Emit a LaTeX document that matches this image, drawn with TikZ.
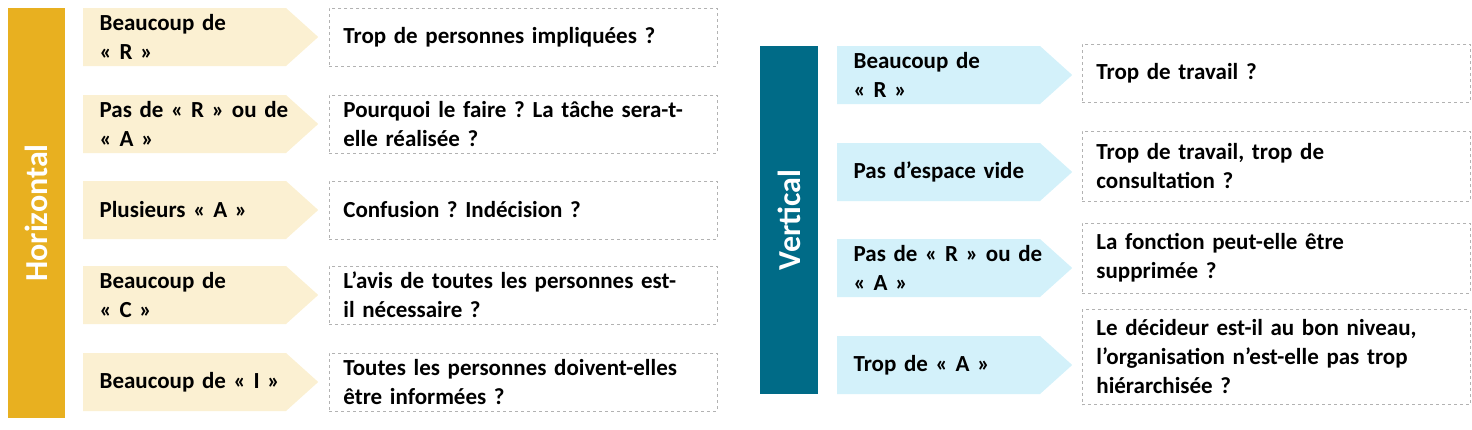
\documentclass[tikz,border=0pt]{standalone}
\usepackage{fontspec}
\setmainfont{Carlito}
\frenchspacing
\usetikzlibrary{shapes.symbols,positioning}
\definecolor{gold}{HTML}{E8B020}
\definecolor{cream}{HTML}{FBF0D2}
\definecolor{teal}{HTML}{006B87}
\definecolor{sky}{HTML}{D3F1FA}
\tikzset{
	chev/.style={
		signal, signal to=east, signal pointer angle=84, draw=none,
		minimum width=235pt, minimum height=58pt, inner xsep=0pt, inner ysep=0pt,
		text width=202pt, align=left, anchor=west,
		execute at begin node={\leftskip=16pt},
		font=\fontsize{23}{29}\selectfont\bfseries
	},
	%
	qbox/.style={
		rectangle, draw=black!30, dashed, thick, inner xsep=14pt, inner ysep=0pt,
		minimum width=388pt, text width=360pt, align=left, anchor=west,
		font=\fontsize{23}{29}\selectfont\bfseries
	},
	%
	bar/.style={
		rectangle, text=white, font=\fontsize{32}{36}\selectfont\bfseries,
		rotate=90
	}
}
\begin{document}
\begin{tikzpicture}[x=1pt,y=-1pt]
    \useasboundingbox (0,0) rectangle (1472,429);
    % horizontal
    \node(H)[bar, fill=gold, minimum width=410pt, minimum height=57pt] at (36.5,213){Horizontal};
    \node(h1)[chev, fill=cream] at (83,37){Beaucoup de\\« R »};
    \node(h2)[chev, fill=cream] at (83,124){\mbox{Pas de « R » ou de}\\« A »};
    \node(h3)[chev, fill=cream] at (83,210){Plusieurs « A »};
    \node(h4)[chev, fill=cream] at (83,295){Beaucoup de\\« C »};
    \node(h5)[chev, fill=cream] at (83,382){Beaucoup de « I »};
    \node(q1)[qbox, minimum height=58pt] at (329,37){Trop de personnes impliquées ?};
    \node(q2)[qbox, minimum height=58pt] at (329,124){Pourquoi le faire ? La tâche sera-t-\\elle réalisée ?};
    \node(q3)[qbox, minimum height=58pt] at (329,210){Confusion ? Indécision ?};
    \node(q4)[qbox, minimum height=58pt] at (329,295){L’avis de toutes les personnes est-\\il nécessaire ?};
    \node(q5)[qbox, minimum height=58pt] at (329,382){Toutes les personnes doivent-elles\\être informées ?};
    % vertical
    \node(V)[bar, fill=teal, minimum width=348pt, minimum height=58pt] at (789,220){Vertical};
    \node(v1)[chev, fill=sky] at (837,75){Beaucoup de\\« R »};
    \node(v2)[chev, fill=sky] at (837,172){Pas d’espace vide};
    \node(v3)[chev, fill=sky] at (837,268){\mbox{Pas de « R » ou de}\\« A »};
    \node(v4)[chev, fill=sky] at (837,365){Trop de « A »};
    \node(r1)[qbox, minimum height=58pt] at (1082,73){Trop de travail ?};
    \node(r2)[qbox, minimum height=70pt] at (1082,166){Trop de travail, trop de\\consultation ?};
    \node(r3)[qbox, minimum height=70pt] at (1082,258){La fonction peut-elle être\\supprimée ?};
    \node(r4)[qbox, minimum height=95pt] at (1082,357){Le décideur est-il au bon niveau,\\l’organisation n’est-elle pas trop\\hiérarchisée ?};
\end{tikzpicture}
\end{document}
